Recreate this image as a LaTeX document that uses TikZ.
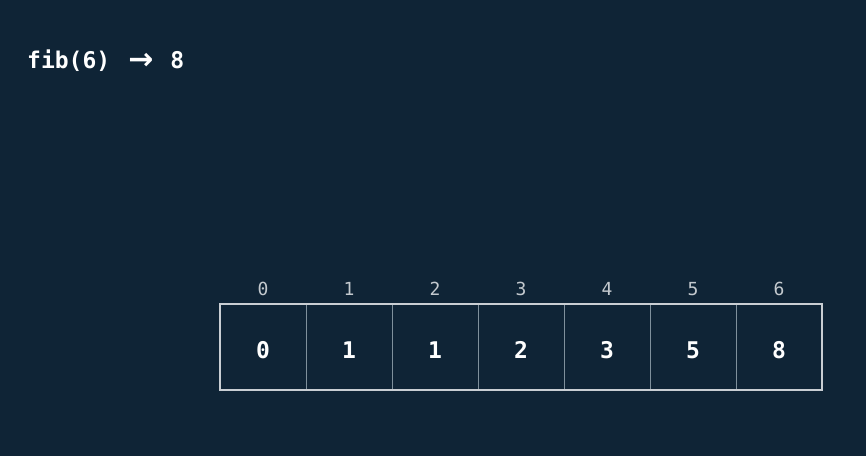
\documentclass[tikz,border=0pt]{standalone}
\usepackage{fontspec}
\setmonofont{DejaVu Sans Mono}
\newfontfamily\arrowfont{DejaVu Sans}
\definecolor{bg}{HTML}{0F2436}
\definecolor{outer}{HTML}{C9CED3}
\definecolor{divider}{HTML}{7F909C}
\definecolor{idxcol}{HTML}{C3C9CE}
\tikzset{
  valtext/.style={text=white, font=\ttfamily\bfseries\fontsize{23}{26}\selectfont, anchor=base, inner sep=0pt},
  idxtext/.style={text=idxcol, font=\ttfamily\fontsize{18}{20}\selectfont, anchor=base, inner sep=0pt},
  cellbox/.style={draw=divider, line width=0.8pt, minimum width=86pt, minimum height=86pt, inner sep=0pt, outer sep=0pt},
}
\begin{document}
\begin{tikzpicture}[x=1pt,y=-1pt]
\fill[bg] (0,0) rectangle (866,456);
\useasboundingbox (0,0) rectangle (866,456);
\node[anchor=base west, text=white, font=\ttfamily\bfseries\fontsize{23}{26}\selectfont, inner sep=0pt] (title) at (27,68) {fib(6)\hspace{18pt}{\arrowfont\bfseries\fontsize{30}{32}\selectfont\raisebox{-1.5pt}{→}}\hspace{17pt}8};
\foreach \v [count=\i from 0] in {0,1,1,2,3,5,8} {
  \node[cellbox] (c\i) at (220+43+86*\i,347) {};
  \node[valtext] (v\i) at (220+43+86*\i,358) {\v};
  \node[idxtext] (n\i) at (220+43+86*\i,295) {\i};
}
\draw[outer, line width=1.6pt] (c0.north west) rectangle (c6.south east);
\end{tikzpicture}
\end{document}
